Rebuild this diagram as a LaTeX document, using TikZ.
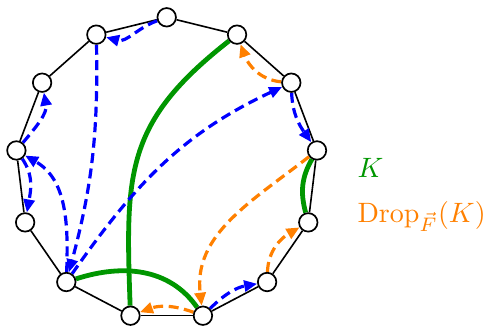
\documentclass[tikz,border=0pt]{standalone}
\usepackage{amsmath}
\usetikzlibrary{arrows.meta}
\definecolor{kgreen}{RGB}{0,150,0}
\definecolor{dorange}{RGB}{255,128,0}
\definecolor{dblue}{RGB}{0,0,255}
\begin{document}
\begin{tikzpicture}[x=1pt,y=1pt,
  vshape/.style={circle,minimum size=18.5pt,inner sep=0pt,line width=1.7pt},
  vtx/.style={vshape,draw=black,fill=white},
  poly/.style={line width=1.6pt,draw=black},
  darr/.style={dash pattern=on 10pt off 5.5pt,line width=3.2pt,-{Triangle[length=13pt,width=11pt]}},
  bl/.style={darr,draw=dblue},
  orr/.style={darr,draw=dorange},
  gr/.style={line width=4.8pt,draw=kgreen},
  lab/.style={scale=2.8,anchor=base west,inner sep=0pt}
]
\useasboundingbox (0,0) rectangle (490,-326);
\coordinate (c) at (166.7,-168.7);
\foreach \k in {0,...,12}
  \path (c) ++({90+\k*360/13}:151.4) node[vshape] (v\k) {};
% polygon
\foreach \k [evaluate=\k as \n using {int(mod(\k+1,13))}] in {0,...,12}
  \draw[poly] (v\k) -- (v\n);
% green
\draw[gr] (v12) to[out=-142,in=92,looseness=1.2] (v6);
\draw[gr] (v5) to[out=18,in=125] (v7);
\draw[gr] (v10) to[out=240,in=105] (v9);
% blue
\draw[bl] (v0) to[out=200,in=-15] (v1);
\draw[bl] (v1) to[out=-89,in=75] (v5);
\draw[bl] (v5) to[out=88,in=-30] (v3);
\draw[bl] (v3) to[out=-55,in=80] (v4);
\draw[bl] (v3) to[out=50,in=-80] (v2);
\draw[bl] (v5) to[out=55,in=205] (v11);
\draw[bl] (v11) to[out=-88,in=125] (v10);
\draw[bl] (v7) to[out=45,in=190] (v8);
% orange
\draw[orr] (v11) to[out=175,in=-70] (v12);
\draw[orr] (v10) to[out=218,in=97] (v7);
\draw[orr] (v8) to[out=88,in=210] (v9);
\draw[orr] (v7) to[out=160,in=20] (v6);
% visible vertices
\foreach \k in {0,...,12}
  \node[vtx] (w\k) at (v\k) {};
% labels
\node[lab,text=kgreen] (lk) at (357,-178) {$K$};
\node[lab,text=dorange] (ld) at (357,-222) {$\mathrm{Drop}_{\vec F}(K)$};
\end{tikzpicture}
\end{document}
